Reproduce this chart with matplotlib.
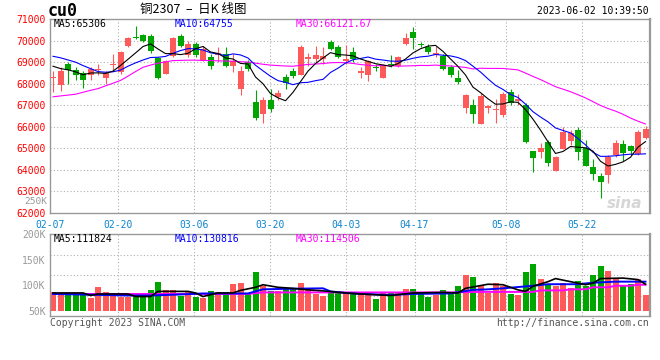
#!/usr/bin/env python3
"""Sina-style daily K-line chart of cu2307 with a volume panel."""

import matplotlib

matplotlib.use("Agg")
import matplotlib.pyplot as plt
import numpy as np

W, H = 660, 360

# x axis: trading days 02-07 .. 06-02, labelled dates and their candle index
DATE_LABELS = ["02-07", "02-20", "03-06", "03-20", "04-03", "04-17", "05-08", "05-22"]
DATE_INDEX = [0, 9, 19, 29, 39, 48, 60, 70]

OPEN = [68270, 67920, 68920, 68640, 68500, 68380, 68630, 68270, 68880, 68530,
        69750, 70180, 70260, 70210, 69190, 68460, 69270, 70210, 69330, 69830,
        69070, 69250, 69330, 69370, 68840, 67740, 68990, 67160, 66600, 67240,
        67360, 68300, 68580, 68380, 69150, 69150, 69150, 69950, 69710, 69070,
        69450, 68490, 68380, 68790, 68280, 68890, 68840, 69860, 70400, 69860,
        69710, 69330, 69300, 68770, 68280, 66850, 67030, 66110, 66850, 66800,
        66540, 67620, 67200, 67000, 64880, 64850, 65310, 63970, 64960, 65360,
        65850, 65000, 64120, 63720, 63770, 64690, 65200, 65110, 64720, 65460]
HIGH = [68610, 68760, 68990, 68760, 68610, 68790, 68920, 68610, 69370, 69530,
        70170, 70670, 70320, 70290, 69250, 69100, 70170, 70320, 70000, 69940,
        69760, 69370, 69710, 69680, 69370, 68840, 69100, 67690, 67390, 67770,
        67690, 68430, 68730, 69800, 69400, 69760, 69710, 70020, 69800, 69800,
        69680, 68790, 69100, 68920, 68920, 69340, 69300, 70370, 70630, 69950,
        69860, 69760, 69370, 68850, 68650, 67540, 67280, 67570, 67000, 67310,
        67620, 67770, 67510, 67110, 64880, 65260, 65390, 64660, 66000, 65850,
        66000, 65390, 64490, 63850, 64690, 65390, 65390, 65150, 65850, 66030]
LOW = [67620, 67660, 68000, 68150, 67820, 68150, 68380, 68000, 68610, 68460,
       69710, 70060, 69910, 69400, 68230, 68430, 69220, 69680, 69220, 69220,
       69070, 68690, 68990, 68760, 68530, 67470, 68610, 66320, 66170, 66700,
       67240, 67770, 68270, 68380, 68840, 68990, 68920, 69560, 69190, 68920,
       68990, 68280, 68120, 68610, 68280, 68760, 68790, 69800, 69600, 69680,
       69370, 69250, 68640, 68300, 67970, 66650, 66190, 66110, 66620, 66190,
       66460, 67000, 67000, 65230, 63880, 64540, 64190, 63970, 64960, 65160,
       64460, 64160, 63540, 62690, 63390, 64620, 64430, 64690, 64690, 65420]
CLOSE = [68290, 68610, 68640, 68380, 68150, 68690, 68650, 68500, 68920, 69450,
         70140, 70110, 69990, 69530, 68270, 69070, 70110, 69760, 69830, 69330,
         69600, 68840, 69400, 68810, 69070, 68580, 68690, 66400, 67240, 66810,
         67570, 68030, 68340, 69710, 69250, 69340, 69300, 69600, 69250, 69150,
         69150, 68580, 69040, 68720, 68840, 68840, 69220, 70100, 70140, 69800,
         69450, 69400, 68690, 68390, 68080, 67460, 66570, 67420, 66960, 66830,
         67510, 67080, 67280, 65310, 64570, 65000, 64340, 64590, 65770, 65720,
         64850, 64190, 63820, 63420, 64620, 65230, 64770, 64890, 65770, 65890]
VOLUME_K = [87, 85, 83, 83, 81, 76, 96, 86, 83, 78,
            78, 78, 78, 91, 107, 91, 91, 80, 88, 78,
            76, 89, 87, 83, 102, 105, 83, 126, 98, 88,
            88, 92, 92, 105, 92, 83, 79, 88, 85, 86,
            83, 85, 85, 74, 86, 85, 86, 93, 93, 85,
            78, 81, 91, 86, 98, 120, 117, 101, 85, 104,
            99, 83, 81, 126, 142, 113, 102, 99, 104, 94,
            109, 99, 120, 137, 127, 112, 101, 103, 112, 81]

# moving-average lines as drawn on the price panel (one value per candle)
PRICE_MA5 = [68810, 68700, 68640, 68550, 68414, 68494, 68502, 68474, 68582, 68842,
             69132, 69424, 69722, 69844, 69608, 69394, 69394, 69348, 69408, 69620,
             69726, 69472, 69400, 69196, 69144, 68940, 68910, 68310, 67996, 67543,
             67342, 67209, 67598, 68092, 68580, 68934, 69190, 69440, 69348, 69328,
             69290, 69146, 69034, 68928, 68866, 68804, 68932, 69144, 69428, 69620,
             69742, 69778, 69496, 69146, 68802, 68404, 67838, 67584, 67298, 67048,
             67058, 67160, 67132, 66802, 66350, 65848, 65300, 64762, 64854, 65084,
             65054, 65024, 64870, 64400, 64180, 64256, 64372, 64586, 65056, 65312]
PRICE_MA10 = [69270, 69200, 69100, 69000, 68840, 68700, 68560, 68530, 68550, 68628,
              68811, 68963, 69098, 69213, 69225, 69263, 69409, 69535, 69626, 69614,
              69560, 69433, 69374, 69302, 69382, 69333, 69191, 68855, 68596, 68344,
              68141, 68060, 67954, 68044, 68062, 68138, 68200, 68519, 68720, 68954,
              69112, 69168, 69237, 69138, 69097, 69047, 69039, 69089, 69178, 69243,
              69273, 69355, 69320, 69287, 69211, 69073, 68808, 68540, 68222, 67925,
              67731, 67499, 67358, 67050, 66699, 66453, 66230, 65947, 65828, 65717,
              65451, 65162, 64816, 64627, 64632, 64655, 64698, 64728, 64728, 64746]
PRICE_MA30 = [67390, 67430, 67470, 67510, 67600, 67690, 67770, 67900, 68020, 68150,
              68350, 68560, 68760, 68860, 68950, 69010, 69070, 69080, 69090, 69090,
              69080, 69070, 69060, 69050, 69040, 69020, 69000, 68950, 68900, 68862,
              68838, 68819, 68809, 68853, 68890, 68911, 68933, 68970, 68981, 68971,
              68938, 68887, 68855, 68828, 68847, 68839, 68810, 68821, 68831, 68847,
              68842, 68861, 68837, 68823, 68790, 68753, 68682, 68716, 68707, 68707,
              68705, 68674, 68638, 68492, 68336, 68191, 68026, 67859, 67743, 67628,
              67485, 67339, 67165, 66988, 66847, 66727, 66579, 66405, 66259, 66129]

# volume moving averages, read at the candles where the line changes course
VOL_MA5_IDX = [0, 4, 5, 6, 10, 11, 13, 14, 18, 19, 20, 22, 24, 25, 27, 28, 30, 32, 34, 36,
               39, 41, 45, 48, 52, 54, 55, 58, 60, 62, 63, 64, 66, 67, 69, 71, 72, 73, 76, 78, 79]
VOL_MA5 = [85, 85, 80, 83, 83, 78, 78, 88, 88, 85, 78, 85, 85, 90, 96, 101, 96, 94, 91, 89,
           85, 83, 80, 85, 86, 85, 94, 102, 101, 91, 88, 98, 107, 113, 107, 101, 104, 113, 114, 111, 102]
VOL_MA10_IDX = [0, 10, 13, 17, 20, 26, 28, 31, 36, 37, 39, 41, 45, 48, 53, 56, 58, 60, 64, 66,
                70, 72, 75, 79]
VOL_MA10 = [83, 80, 80, 82, 84, 84, 92, 93, 94, 88, 85, 83, 81, 83, 84, 91, 92, 94, 99, 102,
            102, 105, 107, 107]
VOL_MA30_IDX = [0, 26, 28, 53, 57, 64, 65, 68, 69, 71, 72, 74, 75, 77, 78, 79]
VOL_MA30 = [83, 83, 86, 86, 87, 87, 90, 90, 92, 92, 96, 96, 99, 99, 101, 101]

PRICE_TICKS = list(range(62000, 71001, 1000))
VOL_TICKS = [50, 100, 150, 200]
VOL_GRID = [80, 120, 160]
VOL_FLOOR = 50

UP = "#ff5a5a"
DOWN = "#00a600"
GRID = "#b0b0b0"
MONO = "DejaVu Sans Mono"


def px_rect(left, top, right, bottom):
    return [left / W, 1 - bottom / H, (right - left) / W, (bottom - top) / H]


def ftext(fig, x, y, s, **kw):
    kw.setdefault("va", "center")
    kw.setdefault("family", MONO)
    fig.text(x / W, 1 - y / H, s, **kw)


def style_axes(ax, date_pos, hlines):
    for spine in ax.spines.values():
        spine.set_color("#999999")
        spine.set_linewidth(1.0)
    ax.spines["right"].set_linewidth(1.6)
    for v in hlines:
        ax.axhline(v, color=GRID, lw=0.8, ls=(0, (1, 2)), zorder=0)
    for p in date_pos[1:]:
        ax.axvline(p, color=GRID, lw=0.8, ls=(0, (1, 2)), zorder=0)


def main():
    plt.rcParams["font.family"] = [MONO, "DejaVu Sans"]
    fig = plt.figure(figsize=(W / 100, H / 100), dpi=100)
    fig.patch.set_facecolor("white")

    o, h, l, c = (np.array(a, dtype=float) for a in (OPEN, HIGH, LOW, CLOSE))
    n = len(c)
    centers = np.arange(n) + 0.4
    colors = np.where(c >= o, UP, DOWN)
    date_pos = [d * n / (n - 1) for d in DATE_INDEX]

    # price panel
    ax = fig.add_axes(px_rect(50, 19, 650, 213))
    ax.set_xlim(0, n)
    ax.set_ylim(62000, 71000)
    style_axes(ax, date_pos, PRICE_TICKS[1:-1])
    ax.vlines(centers, l, h, colors=colors, lw=0.8, zorder=2)
    ax.bar(centers, np.maximum(np.abs(c - o), 45), bottom=np.minimum(o, c),
           width=0.8, color=colors, lw=0, zorder=3)
    ax.plot(centers, PRICE_MA30, color="#ff00ff", lw=0.8, zorder=4)
    ax.plot(centers, PRICE_MA10, color="#0000ff", lw=0.8, zorder=4)
    ax.plot(centers, PRICE_MA5, color="#000000", lw=0.8, zorder=4)
    ax.set_yticks(PRICE_TICKS, [str(t) for t in PRICE_TICKS])
    ax.set_xticks(date_pos, DATE_LABELS)
    ax.tick_params(axis="y", length=0, pad=3, labelsize=7, labelcolor="#ff0000")
    ax.tick_params(axis="x", length=0, pad=5, labelsize=7, labelcolor="#0a84d0")

    # volume panel
    vx = fig.add_axes(px_rect(50, 234, 650, 316))
    vx.set_xlim(0, n)
    vx.set_ylim(40, 200)
    style_axes(vx, date_pos, VOL_GRID)
    vol = np.array(VOLUME_K, dtype=float)
    vx.bar(centers, vol - VOL_FLOOR, bottom=VOL_FLOOR, width=0.8, color=colors, lw=0, zorder=2)
    vx.plot(np.array(VOL_MA30_IDX) + 0.4, VOL_MA30, color="#ff00ff", lw=1.4, zorder=3)
    vx.plot(np.array(VOL_MA10_IDX) + 0.4, VOL_MA10, color="#0000ff", lw=1.4, zorder=3)
    vx.plot(np.array(VOL_MA5_IDX) + 0.4, VOL_MA5, color="#000000", lw=1.2, zorder=3)
    vx.set_yticks(VOL_TICKS, [f"{t}K" for t in VOL_TICKS])
    vx.set_xticks([])
    vx.tick_params(axis="y", length=0, pad=3, labelsize=7, labelcolor="#999999")
    ftext(fig, 47, 201.5, "250K", ha="right", fontsize=6.8, color="#999999")

    # header and legends
    ftext(fig, 48, 11, "cu0", fontsize=12, fontweight="bold")
    ftext(fig, 140, 10, "铜2307  –  日K 线图", fontsize=9,
          family=["Noto Sans CJK SC", "DejaVu Sans"])
    ftext(fig, 649, 11, "2023-06-02 10:39:50", ha="right", fontsize=7)
    for y, labels in ((24, ("MA5:65306", "MA10:64755", "MA30:66121.67")),
                      (239, ("MA5:111824", "MA10:130816", "MA30:114506"))):
        for x, s, col in zip((54, 175, 296), labels, ("#000000", "#0000ff", "#ff00ff")):
            ftext(fig, x, y, s, fontsize=7, color=col)

    ftext(fig, 625, 203, "sina", ha="center", fontsize=11, fontweight="bold",
          style="italic", color="#d6d6d6", family="DejaVu Sans")
    ftext(fig, 50, 323, "Copyright 2023 SINA.COM", fontsize=7, color="#555555")
    ftext(fig, 649, 323, "http://finance.sina.com.cn", ha="right", fontsize=7, color="#555555")

    fig.savefig("out.png", dpi=100)


if __name__ == "__main__":
    main()
